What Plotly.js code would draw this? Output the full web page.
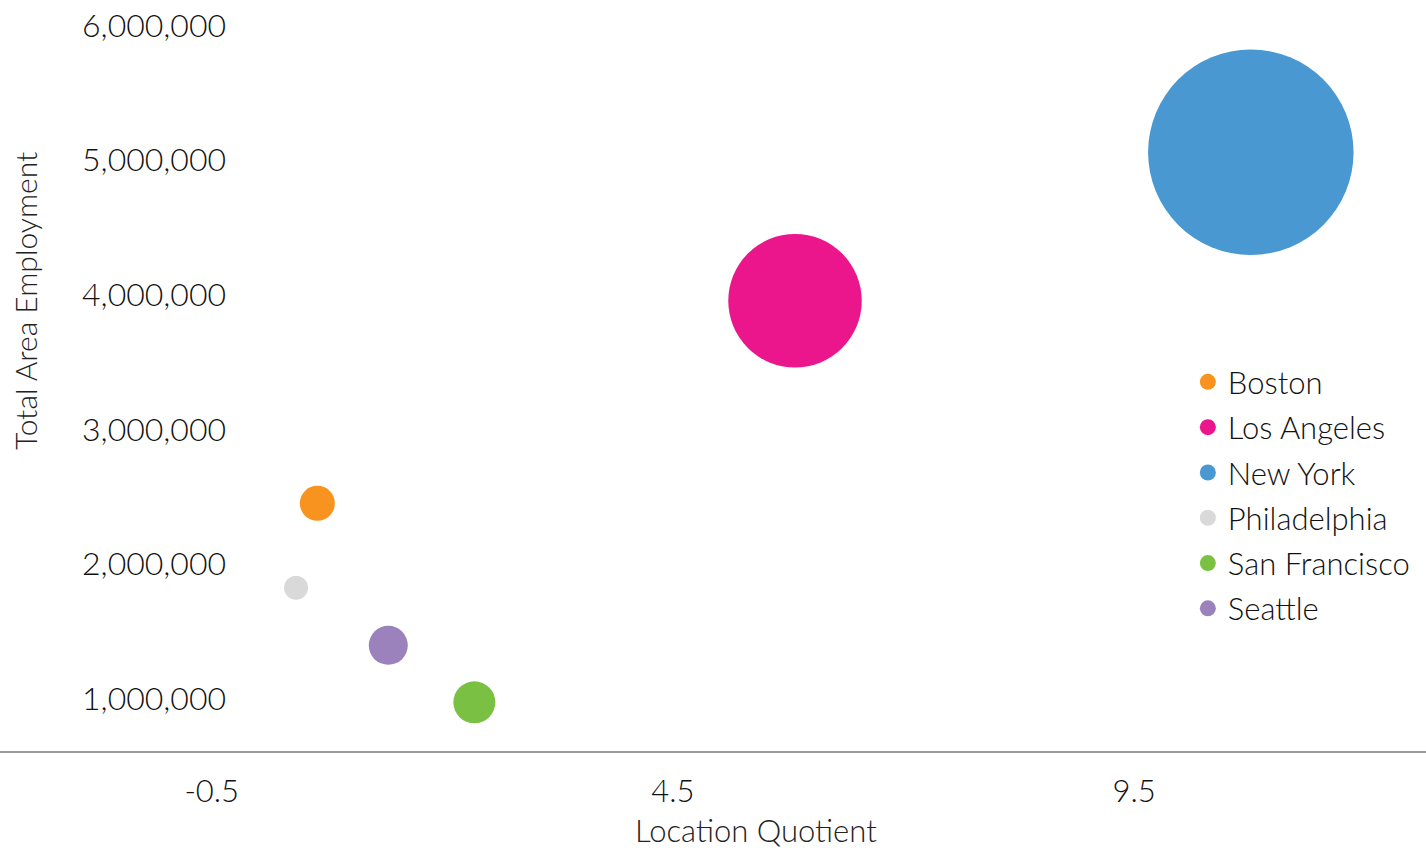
<!DOCTYPE html>
<html>
<head>
<meta charset="utf-8">
<script src="https://cdn.plot.ly/plotly-3.0.1.min.js"></script>
<style>
  html, body { margin: 0; padding: 0; background: #ffffff; }
  #chart { width: 1426px; height: 852px; }
</style>
</head>
<body>
<div id="chart"></div>
<script>
// Data
const cities = ["Boston", "Los Angeles", "New York", "Philadelphia", "San Francisco", "Seattle"];
const locationQuotient = [0.645, 5.823, 10.764, 0.414, 2.347, 1.414];
const totalAreaEmployment = [2452000, 3956000, 5059000, 1825000, 974000, 1397000];
const bubbleSize = [1225, 17822, 42230, 576, 1764, 1521];
const cityColors = ["#F7931E", "#EC168C", "#4A98D2", "#D9D9D9", "#7AC143", "#9C82BC"];

const xTickVals = [-0.5, 4.5, 9.5];
const yTickVals = [1000000, 2000000, 3000000, 4000000, 5000000, 6000000];

const FONT = "Lato, 'Open Sans', sans-serif";
const TXT = "#111111";

const traces = cities.map((c, i) => ({
  type: "scatter",
  mode: "markers",
  name: c,
  legendgroup: c,
  x: [locationQuotient[i]],
  y: [totalAreaEmployment[i]],
  marker: {
    size: [bubbleSize[i]],
    sizemode: "area",
    sizeref: 2,
    color: cityColors[i],
    opacity: 1,
    line: { width: 0 }
  },
  hovertemplate: c + "<br>LQ: %{x}<br>Employment: %{y:,}<extra></extra>"
}));

const layout = {
  width: 1426,
  height: 852,
  margin: { l: 0, r: 0, t: 0, b: 101 },
  paper_bgcolor: "#ffffff",
  plot_bgcolor: "#ffffff",
  font: { family: FONT, color: TXT, size: 30, weight: 300 },
  showlegend: true,
  legend: {
    x: 0.833,
    y: 0.527,
    xanchor: "left",
    yanchor: "top",
    font: { family: FONT, size: 31, color: TXT, weight: 300 },
    bgcolor: "rgba(0,0,0,0)",
    tracegroupgap: 2
  },
  xaxis: {
    range: [-2.795, 12.663],
    tickvals: xTickVals,
    ticktext: xTickVals.map(v => v.toFixed(1)),
    showgrid: false,
    zeroline: false,
    showline: true,
    linecolor: "#999999",
    linewidth: 2,
    ticks: "",
    ticklabelstandoff: 12,
    tickfont: { family: FONT, size: 31, color: TXT, weight: 300 },
    automargin: false,
    fixedrange: true
  },
  yaxis: {
    range: [612400, 6189400],
    tickvals: yTickVals,
    tickformat: ",d",
    showgrid: false,
    zeroline: false,
    showline: false,
    ticks: "",
    anchor: "free",
    position: 228 / 1426,
    ticklabelstandoff: 2,
    tickfont: { family: FONT, size: 32, color: TXT, weight: 300 },
    automargin: false,
    fixedrange: true
  },
  annotations: [
    {
      text: "Total Area Employment",
      xref: "paper",
      yref: "paper",
      x: 25 / 1426,
      y: (751 - 301) / 751,
      xanchor: "center",
      yanchor: "middle",
      textangle: -90,
      showarrow: false,
      font: { family: FONT, size: 30, color: "#222222", weight: 300 }
    },
    {
      text: "Location Quotient",
      xref: "paper",
      yref: "paper",
      x: 756 / 1426,
      y: (751 - 851) / 751,
      xanchor: "center",
      yanchor: "bottom",
      showarrow: false,
      font: { family: FONT, size: 31, color: "#222222", weight: 300 }
    }
  ]
};

Plotly.newPlot("chart", traces, layout, { displayModeBar: false, responsive: false });
</script>
</body>
</html>
